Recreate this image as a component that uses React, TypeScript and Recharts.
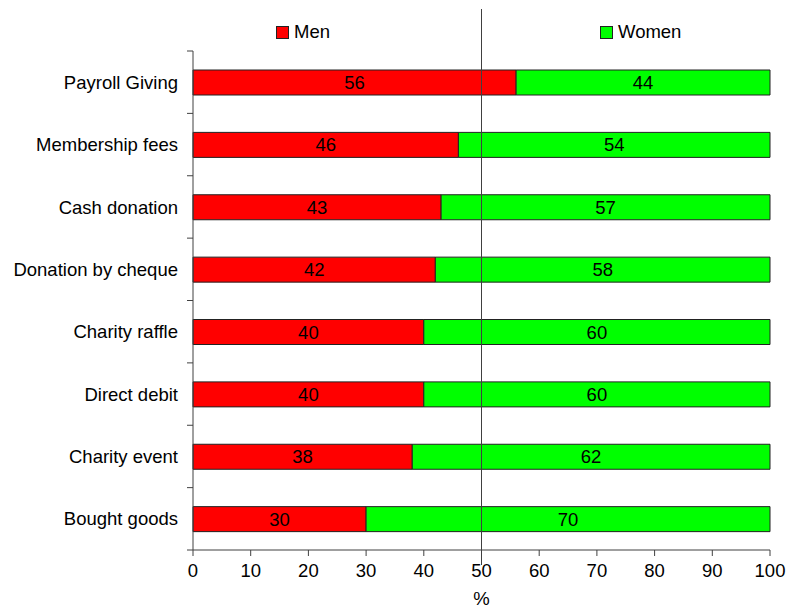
import React from 'react';
import { BarChart, Bar, XAxis, YAxis, ReferenceLine, LabelList } from 'recharts';

const categories = [
  'Payroll Giving',
  'Membership fees',
  'Cash donation',
  'Donation by cheque',
  'Charity raffle',
  'Direct debit',
  'Charity event',
  'Bought goods',
];
const men = [56, 46, 43, 42, 40, 40, 38, 30];
const women = [44, 54, 57, 58, 60, 60, 62, 70];
const xTicks = [0, 10, 20, 30, 40, 50, 60, 70, 80, 90, 100];
const seriesNames = ['Men', 'Women'];
const seriesColors = ['#FF0000', '#00FF00'];

const data = categories.map((name, i) => ({ name, Men: men[i], Women: women[i] }));

const W = 787;
const H = 608;
const MARGIN = { top: 51, right: 17, left: 0, bottom: 0 };
const Y_AXIS_W = 193;
const X_AXIS_H = 58;
const FONT = '"Liberation Sans", Arial, sans-serif';
const FS = 18.5;
const AXIS_COLOR = '#404040';
const plotH = H - MARGIN.top - MARGIN.bottom - X_AXIS_H;
const band = plotH / categories.length;

const YTick = (props: any) => {
  const { x, y, payload, index } = props;
  const ax = x + 15;
  return (
    <g>
      <line x1={ax - 6} x2={ax} y1={y - band / 2} y2={y - band / 2} stroke={AXIS_COLOR} />
      {index === categories.length - 1 && (
        <line x1={ax - 6} x2={ax} y1={y + band / 2} y2={y + band / 2} stroke={AXIS_COLOR} />
      )}
      <text x={x} y={y} dy="0.355em" textAnchor="end" fill="#000" fontSize={FS} fontFamily={FONT}>
        {payload.value}
      </text>
    </g>
  );
};

const legendLeft = [276, 600];

const VLine = (props: any) => {
  const { x1, y1, x2, y2 } = props;
  const top = Math.min(y1, y2);
  const bottom = Math.max(y1, y2);
  return <line x1={x1} x2={x2} y1={top - 42} y2={bottom + 15} stroke={AXIS_COLOR} strokeWidth={1} />;
};

export default function App() {
  return (
    <div style={{ position: 'absolute', left: 0, top: 0, width: W, height: H, background: '#fff' }}>
      <BarChart width={W} height={H} data={data} layout="vertical" margin={MARGIN} barSize={25}>
        <XAxis
          type="number"
          domain={[0, 100]}
          ticks={xTicks}
          interval={0}
          height={X_AXIS_H}
          tickSize={6}
          tickMargin={8}
          stroke={AXIS_COLOR}
          tick={{ fill: '#000', fontSize: FS, fontFamily: FONT }}
          label={{ value: '%', position: 'insideBottom', offset: 3, fill: '#000', fontSize: FS, fontFamily: FONT }}
        />
        <YAxis
          type="category"
          dataKey="name"
          width={Y_AXIS_W}
          tickLine={false}
          tickSize={6}
          tickMargin={9}
          stroke={AXIS_COLOR}
          tick={<YTick />}
          interval={0}
        />
        <Bar dataKey="Men" stackId="a" fill={seriesColors[0]} stroke="#222" strokeWidth={1} isAnimationActive={false}>
          <LabelList dataKey="Men" position="center" fill="#000" fontSize={FS} fontFamily={FONT} />
        </Bar>
        <Bar dataKey="Women" stackId="a" fill={seriesColors[1]} stroke="#222" strokeWidth={1} isAnimationActive={false}>
          <LabelList dataKey="Women" position="center" fill="#000" fontSize={FS} fontFamily={FONT} />
        </Bar>
        <ReferenceLine x={50} stroke={AXIS_COLOR} shape={<VLine />} />
      </BarChart>
      {seriesNames.map((n, i) => (
        <div
          key={n}
          style={{
            position: 'absolute',
            left: legendLeft[i],
            top: 20,
            height: 24,
            display: 'flex',
            alignItems: 'center',
            fontFamily: FONT,
            fontSize: FS,
            color: '#000',
          }}
        >
          <span
            style={{
              display: 'inline-block',
              width: 11,
              height: 11,
              background: seriesColors[i],
              border: '1px solid #222',
              marginRight: 5,
            }}
          />
          <span>{n}</span>
        </div>
      ))}
    </div>
  );
}
